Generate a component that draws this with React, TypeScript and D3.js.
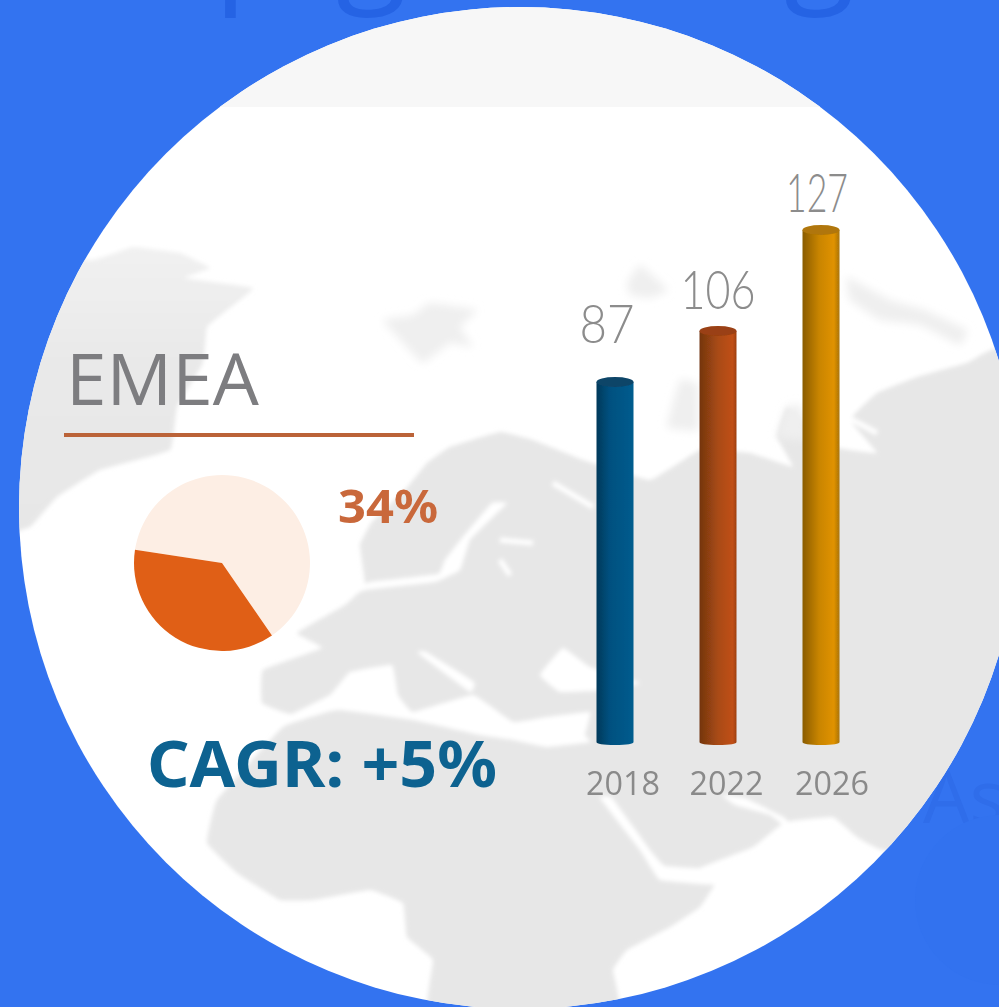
import React from "react";
import * as d3 from "d3";

// ---------- chart data ----------
const years = ["2018", "2022", "2026"];
const barValues = [87, 106, 127];
const pieSlices = [37, 63]; // slice as drawn in the picture
const shareLabel = "34%";
const regionLabel = "EMEA";
const cagrLabel = "CAGR: +5%";

// ---------- styling ----------
const W = 999;
const H = 1007;
const circle = { cx: 520, cy: 508, r: 501 };
const barFills = ["url(#gBlue)", "url(#gRust)", "url(#gGold)"];
const capFills = ["#0a4468", "#9a4012", "#b07608"];
const labelDx = [-8, 0, -4];
const labelGap = [34, 17, 13];
const labelWidths = [55, 75, 62];

// ---------- background map outlines (decoration) ----------
const mainLand: [number, number][] = [
  [360,545],[372,522],[405,490],[427,463],[450,447],[500,432],[533,440],[583,460],[650,480],[700,450],[750,453],
  [793,467],[777,437],[787,407],[807,427],[833,447],[877,453],[850,420],[877,393],[917,377],[967,363],[1010,355],
  [1010,860],[883,850],[857,837],[833,817],[785,822],[753,847],[700,868],[717,880],[700,907],[670,927],[627,950],
  [613,970],[617,1015],[430,1015],[433,960],[407,937],[403,903],[370,890],[313,900],[280,900],[237,873],[207,843],
  [217,800],[283,727],[340,708],[290,714],[262,703],[263,670],[322,648],[297,633],[345,605],[365,585],
];
const americas: [number, number][] = [
  [93,260],[133,247],[180,253],[210,268],[185,278],[253,288],[227,310],[207,327],[203,363],[177,407],[170,450],
  [100,470],[57,497],[30,527],[0,527],[0,260],
];
const seas: [number, number][][] = [
  [[280,720],[330,695],[350,672],[392,665],[398,695],[413,712],[473,695],[513,722],[547,717],[590,712],[585,735],[590,742],[547,747],[513,740],[480,735],[413,720],[340,710],[300,716]],
  [[540,675],[563,648],[590,667],[640,683],[607,690],[560,692]],
  [[600,798],[612,798],[650,850],[665,866],[720,870],[720,885],[660,880],[640,850]],
  [[722,795],[745,798],[785,818],[792,832],[770,815],[735,805]],
  [[345,600],[365,590],[435,582],[460,570],[470,540],[495,515],[507,503],[492,503],[462,538],[445,560],[438,574],[370,582],[350,592]],
  [[418,653],[426,652],[474,682],[470,692]],
];
const isles: [number, number][][] = [
  [[383,320],[413,315],[430,303],[477,310],[460,327],[473,347],[450,343],[423,363],[403,343]],
  [[847,277],[890,300],[925,310],[967,330],[960,345],[920,325],[880,320],[850,300]],
  [[627,283],[640,265],[668,290],[650,298],[630,295]],
  [[667,427],[680,380],[698,385],[698,430]],
  [[777,437],[787,407],[800,405],[810,440]],
];
const ripples: [number, number][][] = [
  [[553,483],[593,507]],
  [[650,477],[677,460]],
  [[847,417],[877,433]],
  [[500,540],[533,543]],
  [[500,560],[510,575]],
];

const outline = d3.line().curve(d3.curveCardinalClosed.tension(0.75));
const polyline = d3.line();

export default function App() {
  const x = d3.scalePoint<string>().domain(years).range([615, 821]);
  // bars in the picture are not strictly proportional, so the scale is pinned to each value
  const y = d3.scaleLinear().domain(barValues).range([377, 326, 225]);
  const base = 745;
  const barW = 37;

  const pie = d3
    .pie<number>()
    .sort(null)
    .startAngle((145.4 * Math.PI) / 180)
    .endAngle((145.4 * Math.PI) / 180 + 2 * Math.PI);
  const arcs = pie(pieSlices);
  const arc = d3.arc<d3.PieArcDatum<number>>().innerRadius(0).outerRadius(88);

  return (
    <svg width={W} height={H} viewBox={`0 0 ${W} ${H}`} style={{ position: "fixed", left: 0, top: 0, display: "block" }}>
      <defs>
        <clipPath id="disc">
          <circle cx={circle.cx} cy={circle.cy} r={circle.r} />
        </clipPath>
        <filter id="soft" x="-5%" y="-5%" width="110%" height="110%">
          <feGaussianBlur stdDeviation="2" />
        </filter>
        <filter id="softer" x="-20%" y="-20%" width="140%" height="140%">
          <feGaussianBlur stdDeviation="4" />
        </filter>
        <filter id="txt" x="-5%" y="-5%" width="110%" height="110%">
          <feGaussianBlur stdDeviation="0.7" />
        </filter>
        <filter id="edge" x="-10%" y="-5%" width="120%" height="110%">
          <feGaussianBlur stdDeviation="0.5" />
        </filter>
        <linearGradient id="gAmer" x1="0" x2="0" y1="0" y2="1">
          <stop offset="0" stopColor="#f1f1f1" />
          <stop offset="0.4" stopColor="#e9e9e9" />
          <stop offset="1" stopColor="#e7e7e7" />
        </linearGradient>
        <linearGradient id="gBlue">
          <stop offset="0" stopColor="#06395a" />
          <stop offset="0.35" stopColor="#04507f" />
          <stop offset="1" stopColor="#055c8e" />
        </linearGradient>
        <linearGradient id="gRust">
          <stop offset="0" stopColor="#743510" />
          <stop offset="0.5" stopColor="#a94b13" />
          <stop offset="0.9" stopColor="#c04f14" />
          <stop offset="1" stopColor="#9c3f10" />
        </linearGradient>
        <linearGradient id="gGold">
          <stop offset="0" stopColor="#8a5c05" />
          <stop offset="0.45" stopColor="#c98503" />
          <stop offset="0.85" stopColor="#e09200" />
          <stop offset="1" stopColor="#a8730a" />
        </linearGradient>
      </defs>

      <rect width={W} height={H} fill="#3373f0" />

      <g fontFamily="'Open Sans'" fill="#2563e4">
        <text x={214} y={-13} fontSize={130}>p</text>
        <text x={336} y={-13} fontSize={130}>g</text>
        <text x={784} y={-13} fontSize={130}>g</text>
      </g>
      <text x={923} y={823} fontFamily="'Open Sans'" fontSize={74} fill="#2f6dea">Asia</text>
      <line x1={930} x2={999} y1={855} y2={855} stroke="#2c68e6" strokeWidth={3} />
      <circle cx={1000} cy={900} r={85} fill="#3272ef" />

      <g clipPath="url(#disc)">
        <rect width={W} height={H} fill="#ffffff" />
        <rect width={W} height={107} fill="#f7f7f7" />
        <g filter="url(#soft)">
          <path d={outline(americas) ?? ""} fill="url(#gAmer)" />
          <path d={outline(mainLand) ?? ""} fill="#e7e7e7" />
          {seas.map((s, i) => <path key={i} d={outline(s) ?? ""} fill="#ffffff" />)}
          {ripples.map((s, i) => <path key={i} d={polyline(s) ?? ""} stroke="#ffffff" strokeWidth={5} fill="none" />)}
        </g>
        <g filter="url(#softer)">
          {isles.map((s, i) => <path key={i} d={outline(s) ?? ""} fill="#efefef" />)}
        </g>
      </g>

      <text x={66} y={405} fontFamily="'Open Sans'" fontSize={72} fill="#7d7d80" textLength={193} lengthAdjust="spacingAndGlyphs" filter="url(#txt)">{regionLabel}</text>
      <rect x={64} y={433} width={350} height={4} fill="#bb6338" />

      <g filter="url(#edge)">
        <path d={arc(arcs[1]) ?? ""} transform="translate(222,563)" fill="#fdeee4" />
        <path d={arc(arcs[0]) ?? ""} transform="translate(222,563)" fill="#e05f14" />
      </g>
      <text x={338} y={523} fontFamily="'Noto Sans'" fontWeight={700} fontSize={46} fill="#c9683a" textLength={100} lengthAdjust="spacingAndGlyphs" filter="url(#txt)">{shareLabel}</text>
      <text x={147} y={787} fontFamily="'Noto Sans'" fontWeight={700} fontSize={64} fill="#0b6290" textLength={350} lengthAdjust="spacingAndGlyphs" filter="url(#txt)">{cagrLabel}</text>

      {years.map((yr, i) => {
        const cx = x(yr) as number;
        const top = y(barValues[i]);
        return (
          <g key={yr}>
            <g filter="url(#edge)">
              <path
                d={`M${cx - barW / 2},${top + 5} V${base - 3} Q${cx - barW / 2},${base} ${cx},${base} Q${cx + barW / 2},${base} ${cx + barW / 2},${base - 3} V${top + 5} Z`}
                fill={barFills[i]}
              />
              <ellipse cx={cx} cy={top + 5} rx={barW / 2} ry={5} fill={capFills[i]} />
            </g>
            <text
              x={cx + labelDx[i]}
              y={top - labelGap[i]}
              textAnchor="middle"
              fontFamily="Lato"
              fontWeight={300}
              fontSize={54}
              fill="#8c8c8c"
              textLength={labelWidths[i]}
              lengthAdjust="spacingAndGlyphs"
            >
              {barValues[i]}
            </text>
            <text
              x={cx + 8 + (i === 2 ? 3 : 0) + (i === 1 ? 0.5 : 0)}
              y={795}
              textAnchor="middle"
              fontFamily="'Open Sans'"
              fontSize={33}
              fill="#8a8a8a"
              textLength={74}
              lengthAdjust="spacingAndGlyphs"
              filter="url(#txt)"
            >
              {yr}
            </text>
          </g>
        );
      })}
    </svg>
  );
}
